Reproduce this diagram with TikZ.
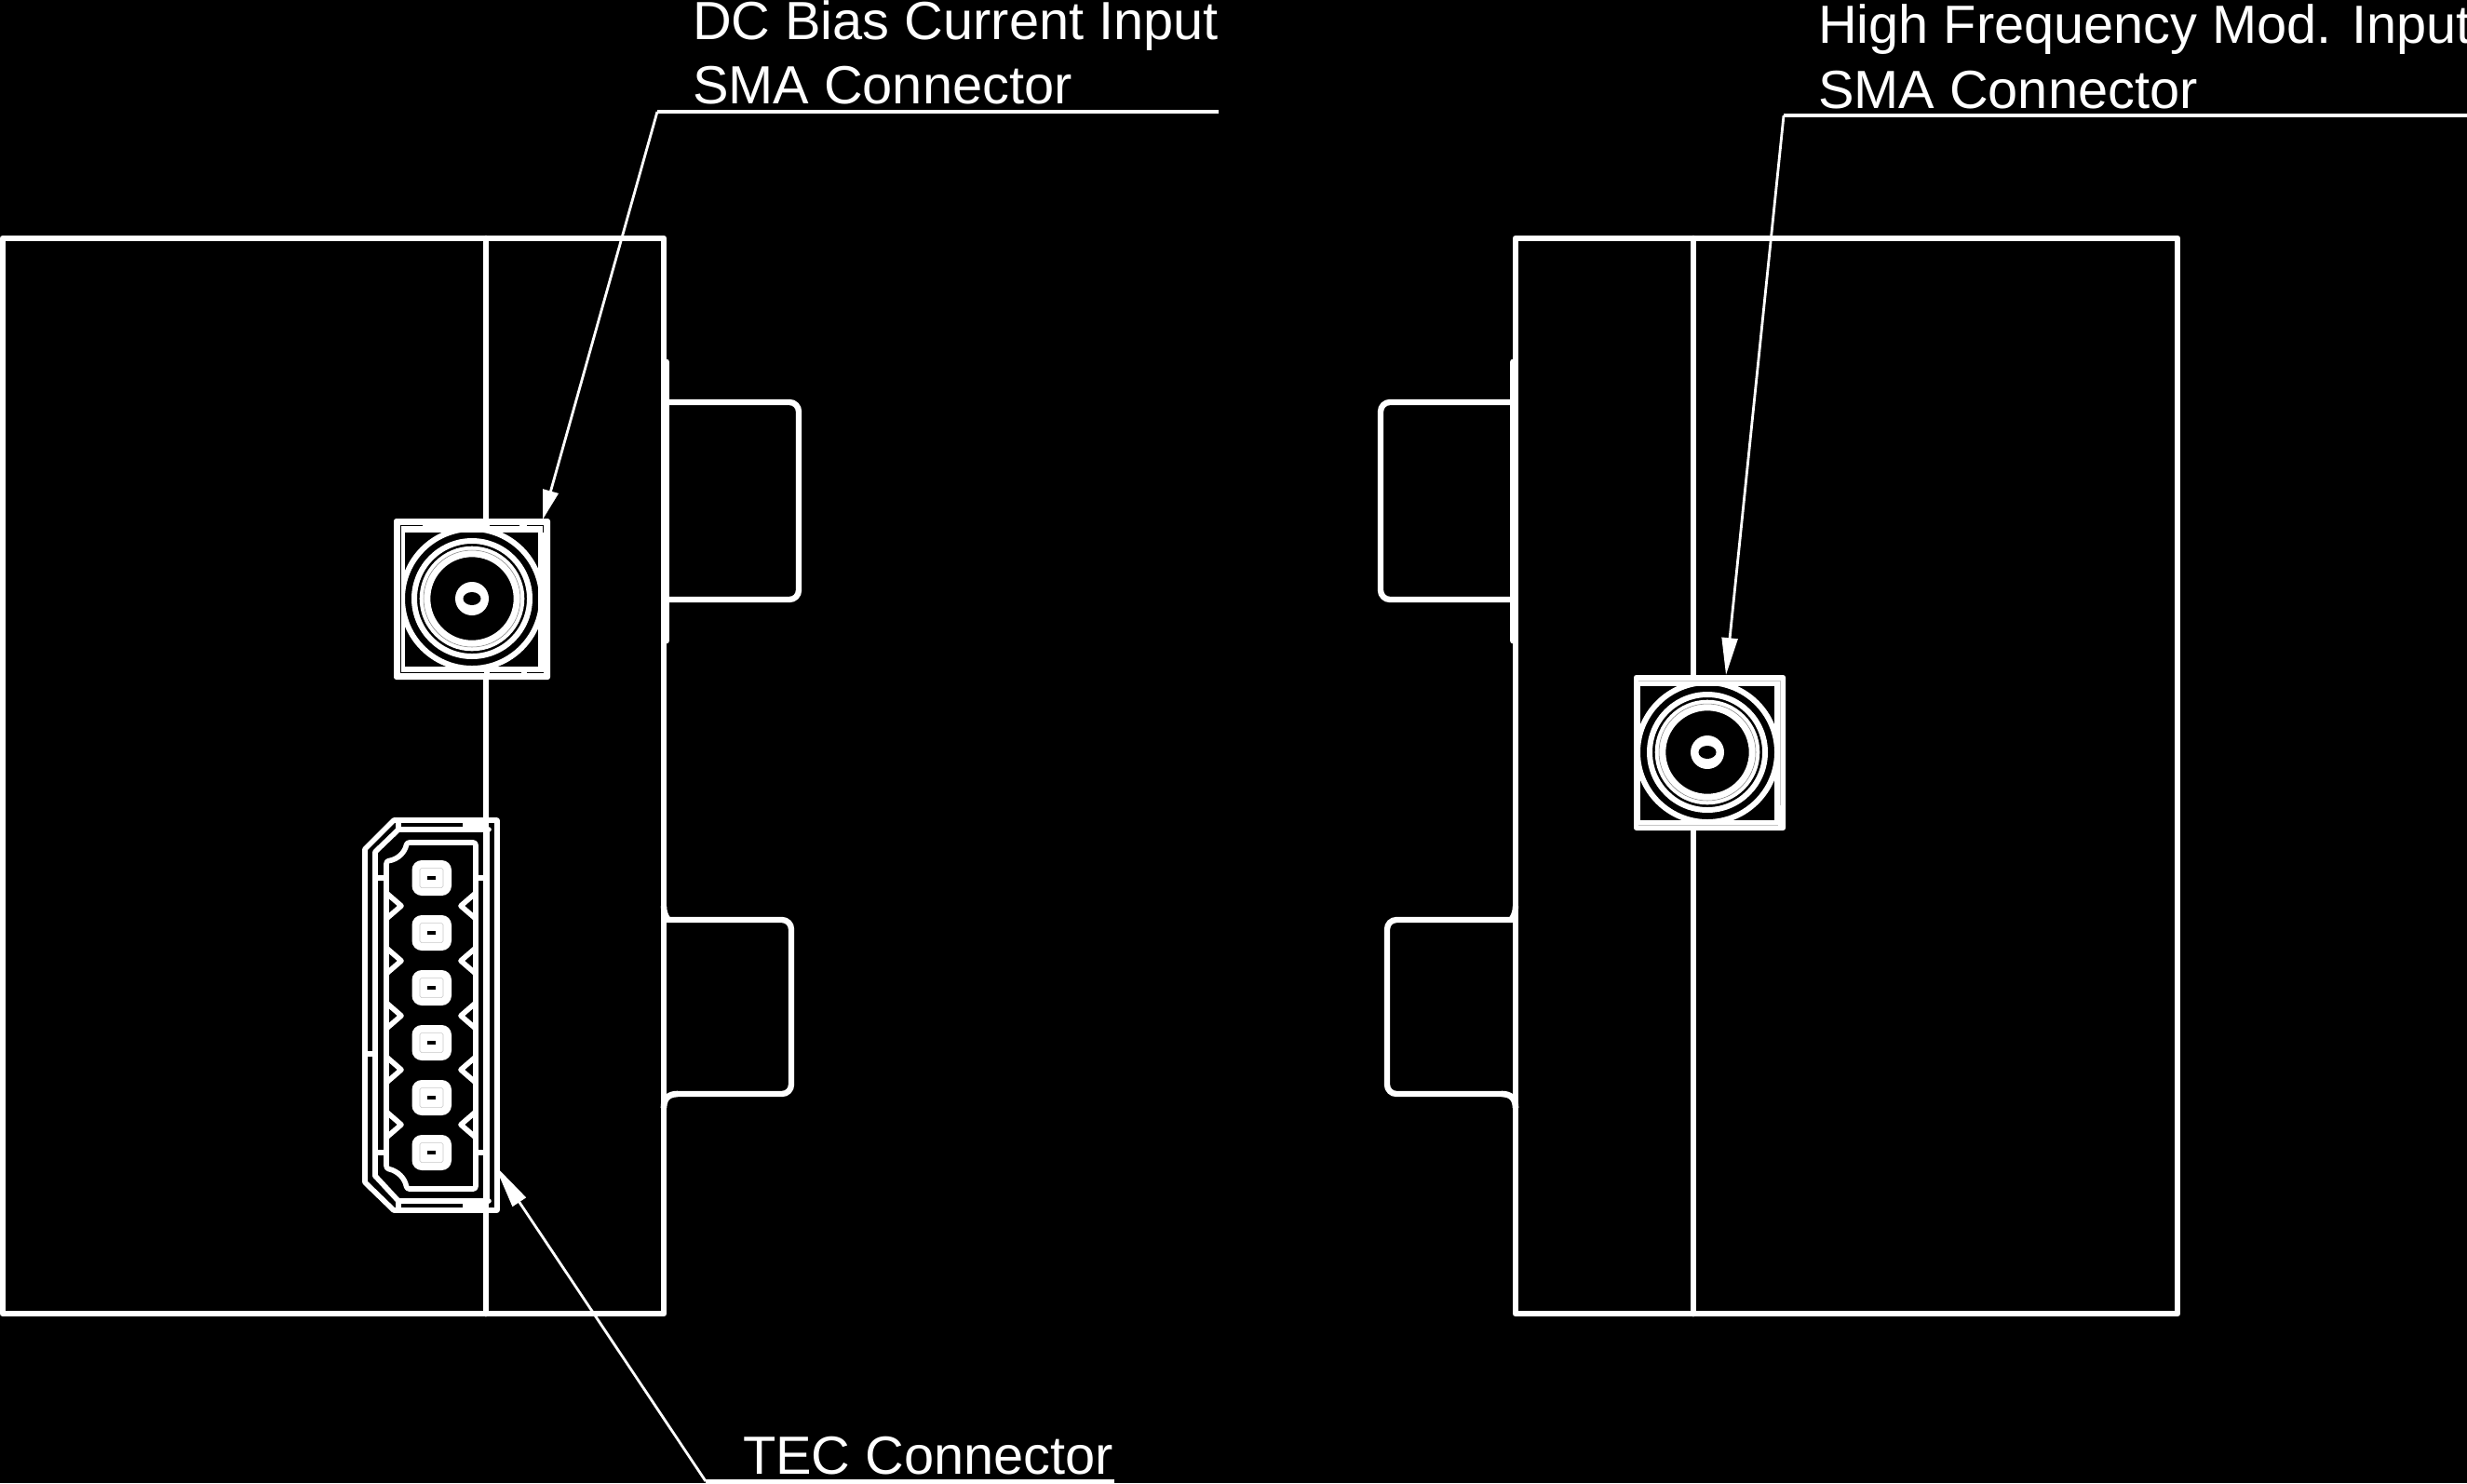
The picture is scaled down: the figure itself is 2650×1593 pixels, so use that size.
\documentclass[tikz,border=0pt]{standalone}
\usepackage{fontspec}
\setmainfont{Liberation Sans}
\usetikzlibrary{arrows.meta}
\definecolor{slit}{gray}{0.78}
\tikzset{
  heavy/.style={draw=white,line width=3.8pt,line cap=round,line join=round},
  medium/.style={draw=white,line width=3.2pt,line join=round,line cap=round},
  ringline/.style={draw=white,line width=3.4pt},
  tabline/.style={draw=white,line width=3.6pt,rounded corners=5.7pt},
  leader/.style={draw=white,line width=1.6pt,line join=miter},
  shelf/.style={draw=white,line width=1.9pt},
  hairline/.style={draw=slit,line width=0.3pt},
  blackslit/.style={draw=black,line width=0.55pt},
  label/.style={text=white,anchor=base west,inner sep=0pt,outer sep=0pt,font=\fontsize{32.87}{36}\selectfont}
}
\newcommand{\smarings}[2]{%
  \draw[ringline] (#1,#2) circle[radius=75];
  \draw[ringline] (#1,#2) circle[radius=62];
  \draw[white,line width=6.6pt] (#1,#2) circle[radius=50.5];
  \draw[draw=gray,line width=0.3pt] (#1,#2) circle[radius=52];
  \fill[white] (#1,#2) circle[radius=18];
  \fill[black] (#1,#2) circle[x radius=9.5,y radius=7];
}
\newcommand{\tecpin}[1]{%
  \fill[white,rounded corners=6pt] (442.5,#1-19) rectangle (485,#1+19);
  \draw[hairline,rounded corners=1pt] (451,#1-10.5) rectangle (476,#1+10.5);
  \fill[black] (459,#1-2) rectangle (468,#1+2);
}
\newcommand{\teclatch}[1]{%
  \draw[medium] (416,#1-13) -- (431,#1) -- (416,#1+13);
  \draw[medium] (510,#1-13) -- (495,#1) -- (510,#1+13);
}
\begin{document}
\begin{tikzpicture}[x=0.02cm,y=-0.02cm]
\fill[black] (0,0) rectangle (2650,1593);
\useasboundingbox (0,0) rectangle (2650,1593);

% ---------- left housing ----------
\draw[heavy] (3,256) rectangle (713,1411);
\draw[heavy] (522,256) -- (522,1411);
\draw[heavy] (716,389) -- (716,688);
\draw[tabline] (716,432) -- (858,432) -- (858,644) -- (716,644);
\draw[tabline] (713,973) .. controls (713,983) and (718,988) .. (728,988) -- (850,988) -- (850,1175) -- (728,1175) ;
\draw[heavy,line cap=butt] (728,1175) .. controls (718,1175) and (713,1180) .. (713,1190);

% ---------- right housing ----------
\draw[heavy] (1628,256) rectangle (2339,1411);
\draw[heavy] (1819,256) -- (1819,1411);
\draw[heavy] (1625,389) -- (1625,688);
\draw[tabline] (1625,432) -- (1483,432) -- (1483,644) -- (1625,644);
\draw[tabline] (1628,973) .. controls (1628,983) and (1623,988) .. (1613,988) -- (1490,988) -- (1490,1175) -- (1613,1175);
\draw[heavy,line cap=butt] (1613,1175) .. controls (1623,1175) and (1628,1180) .. (1628,1190);

% ---------- left SMA connector ----------
\fill[white,rounded corners=1.5pt] (423,557) rectangle (591,730);
\fill[black] (435,572) rectangle (578,716);
\smarings{507}{643}
\draw[blackslit] (430,565) -- (430,722) -- (520,722);
\draw[blackslit] (526,722) -- (560,722);
\draw[blackslit] (566,722) -- (584,722);
\draw[blackslit] (430,564) -- (454,564);
\draw[blackslit] (526,564) -- (558,564);
\draw[blackslit] (566,564) -- (583,564) -- (583,572);

% ---------- right SMA connector ----------
\fill[white,rounded corners=1.5pt] (1755,725) rectangle (1918,892);
\fill[black] (1762,737) rectangle (1906,881);
\smarings{1834}{808}
\draw[hairline] (1760,731) -- (1912,731) -- (1912,865);
\draw[hairline] (1760,886) -- (1910,886);

% ---------- TEC connector ----------
\draw[medium] (423,881) -- (534,881) -- (534,1300) -- (423,1300) -- (392,1270) -- (392,912) -- cycle;
\draw[medium] (403,1263) -- (403,915) -- (428,891) -- (525,891);
\draw[medium] (403,1263) -- (428,1290) -- (525,1290);
\draw[medium] (523,891) -- (523,1290);
\draw[medium] (428,881) -- (428,891);
\draw[medium] (428,1290) -- (428,1300);
\fill[white] (497,881) rectangle (525,893);
\fill[white] (497,1288) rectangle (525,1300);
\draw[medium,rounded corners=1.5pt] (415,925) .. controls (428,923) and (435,915) .. (437,905) -- (511,905) -- (511,1277) -- (437,1277) .. controls (435,1266) and (428,1258) .. (415,1255) -- cycle;
\draw[medium] (403,943) -- (415,943);
\draw[medium] (511,943) -- (523,943);
\draw[medium] (403,1238) -- (415,1238);
\draw[medium] (511,1238) -- (523,1238);
\draw[medium] (392,1132) -- (403,1132);
\teclatch{973}\teclatch{1032}\teclatch{1091}\teclatch{1149}\teclatch{1208}
\tecpin{943}\tecpin{1002}\tecpin{1061}\tecpin{1120}\tecpin{1179}\tecpin{1238}

% ---------- labels ----------
\node[label] (dcA) at (744,42) {DC Bias Current Input};
\node[label] (dcB) at (744,111) {SMA Connector};
\node[label] (hfA) at (1953,46) {High Frequency Mod. Input};
\node[label] (hfB) at (1953,116) {SMA Connector};
\node[label] (tec) at (798,1583) {TEC Connector};

% ---------- leaders ----------
\coordinate (dcKnee) at (706,120);
\coordinate (dcEnd) at (1309,120);
\coordinate (dcTip) at (583,558);
\coordinate (hfKnee) at (1916,124);
\coordinate (hfEnd) at (2650,124);
\coordinate (hfTip) at (1854,725);
\coordinate (tecKnee) at (758,1591);
\coordinate (tecEnd) at (1197,1591);
\coordinate (tecTip) at (531,1251);
\draw[shelf] (dcEnd) -- (dcKnee);
\draw[leader,-{Triangle[length=18pt,width=9.6pt]}] (dcKnee) -- (dcTip);
\draw[shelf] (hfEnd) -- (hfKnee);
\draw[leader,-{Triangle[length=22.7pt,width=9.6pt]}] (hfKnee) -- (hfTip);
\draw[shelf] (tecEnd) -- (tecKnee);
\draw[leader,-{Triangle[length=27.5pt,width=9.6pt]}] (tecKnee) -- (tecTip);
\end{tikzpicture}
\end{document}
